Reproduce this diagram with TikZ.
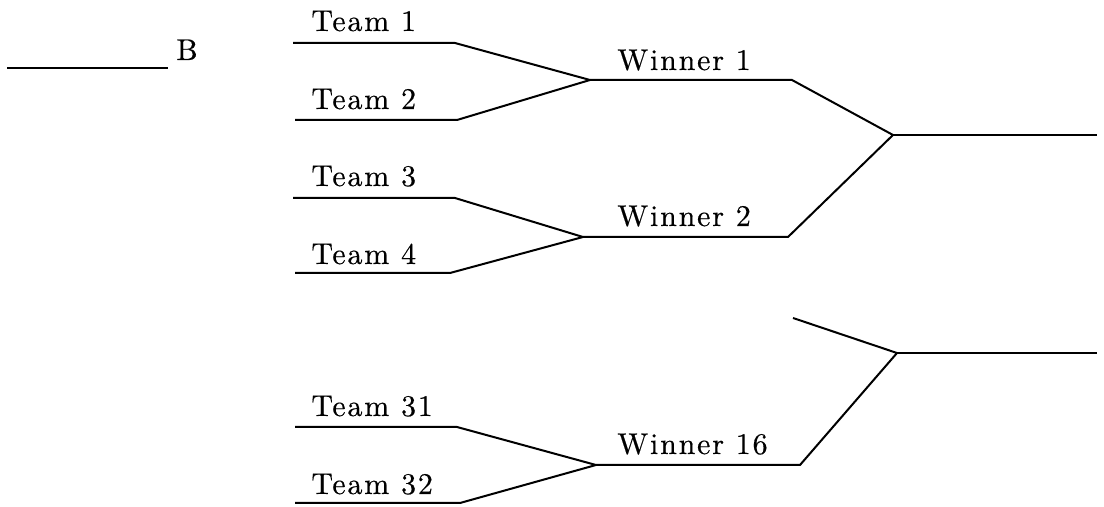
\documentclass[tikz,border=0pt]{standalone}
\usepackage{fontspec}
\newfontfamily\lbfont{lmroman10-regular}[Extension=.otf,LetterSpace=6,FakeBold=0.4]
\begin{document}
\begin{tikzpicture}[x=0.5pt,y=-0.5pt,
  bline/.style={line width=1pt,line join=miter},
  lbl/.style={anchor=base west,inner sep=0pt,font=\lbfont\fontsize{15}{17}\selectfont}]
\useasboundingbox (0,0) rectangle (1104,507);
% B line
\coordinate (b0) at (7,68);
\coordinate (b1) at (168,68);
\draw[bline] (b0) -- (b1);
\node[lbl] (B) at (176,60) {B};
% Team coordinates
\coordinate (t1a) at (293,43);  \coordinate (t1b) at (455,43);
\coordinate (t2a) at (295,120); \coordinate (t2b) at (457,120);
\coordinate (t3a) at (293,198); \coordinate (t3b) at (455,198);
\coordinate (t4a) at (295,273); \coordinate (t4b) at (450,273);
\coordinate (t31a) at (295,427); \coordinate (t31b) at (457,427);
\coordinate (t32a) at (295,503); \coordinate (t32b) at (460,503);
% winners
\coordinate (w1a) at (590,80);  \coordinate (w1b) at (792,80);
\coordinate (w2a) at (583,237); \coordinate (w2b) at (788,237);
\coordinate (w16a) at (596,465); \coordinate (w16b) at (800,465);
% third round
\coordinate (r1a) at (893,135); \coordinate (r1b) at (1097,135);
\coordinate (r2s) at (793,318);
\coordinate (r2a) at (897,353); \coordinate (r2b) at (1097,353);
% lines
\draw[bline] (t1a) -- (t1b) -- (w1a) -- (t2b) -- (t2a);
\draw[bline] (w1a) -- (w1b) -- (r1a) -- (w2b) -- (w2a);
\draw[bline] (t3a) -- (t3b) -- (w2a) -- (t4b) -- (t4a);
\draw[bline] (r1a) -- (r1b);
\draw[bline] (r2s) -- (r2a) -- (w16b) -- (w16a);
\draw[bline] (r2a) -- (r2b);
\draw[bline] (t31a) -- (t31b) -- (w16a) -- (t32b) -- (t32a);
% labels
\node[lbl] (n1) at (311,31) {Team 1};
\node[lbl] (n2) at (311,109) {Team 2};
\node[lbl] (n3) at (311,186) {Team 3};
\node[lbl] (n4) at (311,264) {Team 4};
\node[lbl] (n31) at (311,416) {Team 31};
\node[lbl] (n32) at (311,494) {Team 32};
\node[lbl] (nw1) at (617,70) {Winner 1};
\node[lbl] (nw2) at (617,226) {Winner 2};
\node[lbl] (nw16) at (617,454) {Winner 16};
\end{tikzpicture}
\end{document}
